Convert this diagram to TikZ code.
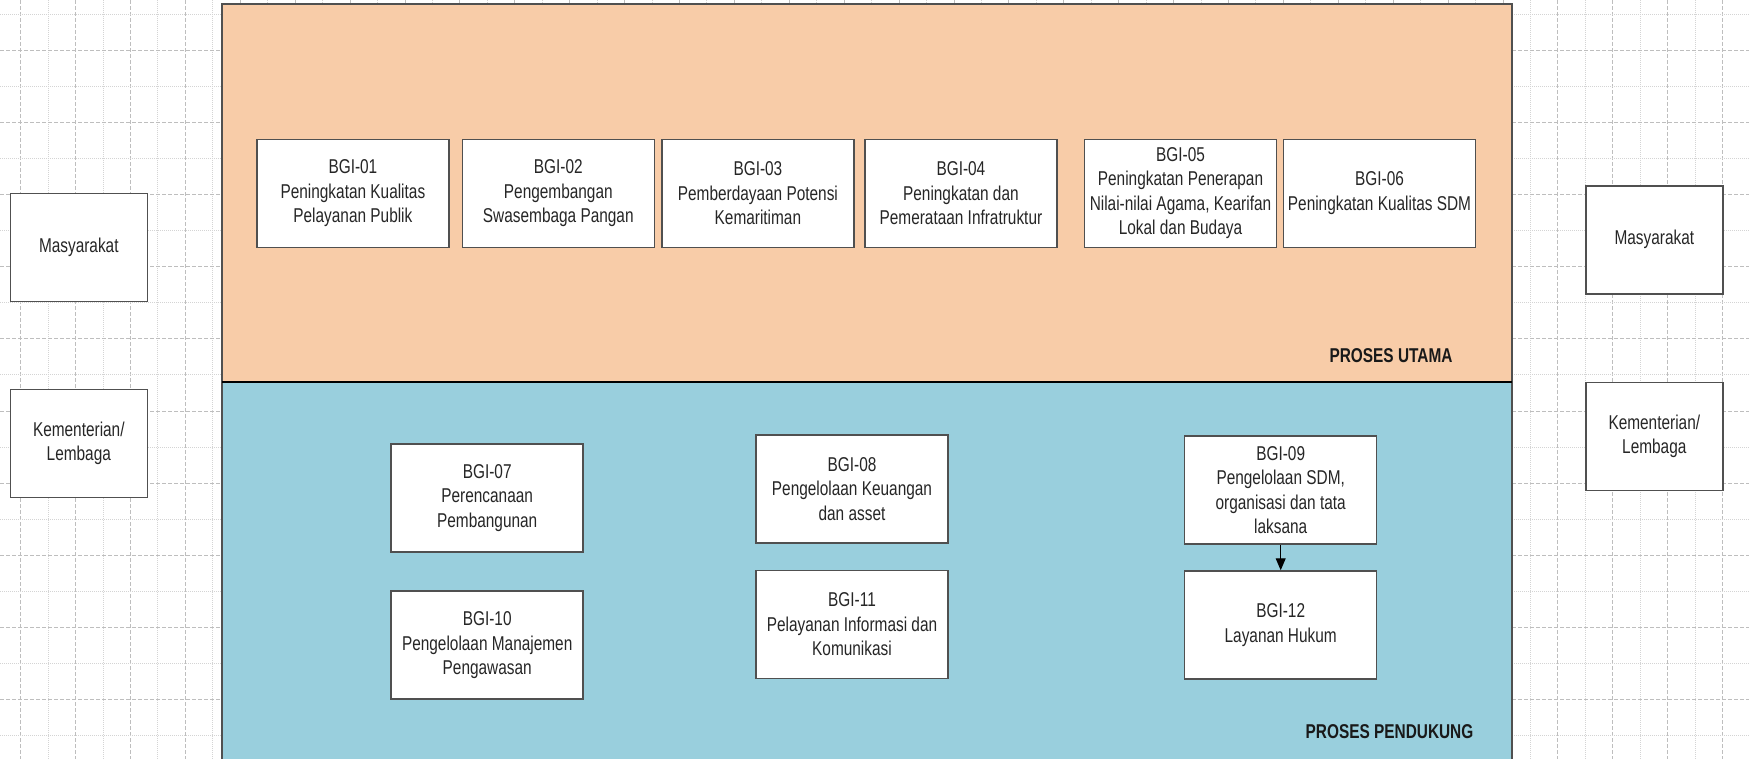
\documentclass[tikz,border=0pt]{standalone}
\usepackage{fontspec}
\setmainfont{Liberation Sans}[FakeStretch=0.77]
\usetikzlibrary{arrows.meta}
\definecolor{utama}{RGB}{248,204,168}
\definecolor{pendukung}{RGB}{153,207,221}
\definecolor{edge}{RGB}{80,80,80}
\definecolor{gridmaj}{RGB}{190,190,190}
\definecolor{gridmin}{RGB}{212,212,212}

\begin{document}
\begin{tikzpicture}[%
  x=1pt,y=-1pt,
  gmajor/.style={draw=gridmaj,line width=1pt,dash pattern=on 4pt off 2pt},
  gminor/.style={draw=gridmin,line width=1pt,dash pattern=on 1pt off 1pt},
  proc/.style={draw=edge,fill=white,line width=1.5pt,minimum width=192pt,
    minimum height=108pt,inner sep=0pt,align=center,text=black!85,
    font=\fontsize{20}{24.5}\selectfont},
  actor/.style={proc,minimum width=137pt},
  plabel/.style={font=\fontsize{20}{24}\selectfont\bfseries,text=black!90}]
\useasboundingbox (0,0) rectangle (1749,759);

\foreach \k in {0,...,31} {
  \draw[gminor] (48.15+54.9*\k,0) -- (48.15+54.9*\k,759);
  \draw[gmajor] (20.7+54.9*\k,0) -- (20.7+54.9*\k,759);
}
\foreach \k in {0,...,10} {
  \draw[gminor] (0,15+72*\k) -- (1749,15+72*\k);
}
\foreach \k in {0,...,9} {
  \draw[gmajor] (0,51+72*\k) -- (1749,51+72*\k);
}

\fill[utama] (222,4.5) rectangle (1512,382);
\fill[pendukung] (222,382) rectangle (1512,765);
\draw[edge,line width=2pt] (222,765) -- (222,4.5) -- (1512,4.5) -- (1512,765);
\draw[black,line width=2pt] (222,382) -- (1512,382);

\node[plabel] (utama) at (1391,356) {PROSES UTAMA};
\node[plabel] (pendukung) at (1389.5,732) {PROSES PENDUKUNG};

\node[actor] (masyL) at (78.8,247.3) {Masyarakat};
\node[actor] (kemL) at (78.8,443.4) {Kementerian/\\Lembaga};
\node[actor] (masyR) at (1654.3,239.8) {Masyarakat};
\node[actor] (kemR) at (1654.3,436.4) {Kementerian/\\Lembaga};

\node[proc] (b01) at (352.9,193.3) {BGI-01\\Peningkatan Kualitas\\Pelayanan Publik};
\node[proc] (b02) at (558.3,193.3) {BGI-02\\Pengembangan\\Swasembaga Pangan};
\node[proc] (b03) at (757.9,193.3) {BGI-03\\Pemberdayaan Potensi\\Kemaritiman};
\node[proc] (b04) at (960.9,193.3) {BGI-04\\Peningkatan dan\\Pemerataan Infratruktur};
\node[proc] (b05) at (1180.5,193.3) {BGI-05\\Peningkatan Penerapan\\Nilai-nilai Agama, Kearifan\\Lokal dan Budaya};
\node[proc] (b06) at (1379.5,193.3) {BGI-06\\Peningkatan Kualitas SDM};

\node[proc] (b07) at (487.2,497.9) {BGI-07\\Perencanaan\\Pembangunan};
\node[proc] (b10) at (487.2,645.2) {BGI-10\\Pengelolaan Manajemen\\Pengawasan};
\node[proc] (b08) at (852,489) {BGI-08\\Pengelolaan Keuangan\\dan asset};
\node[proc] (b11) at (852,624.5) {BGI-11\\Pelayanan Informasi dan\\Komunikasi};
\node[proc] (b09) at (1280.7,490) {BGI-09\\Pengelolaan SDM,\\organisasi dan tata\\laksana};
\node[proc] (b12) at (1280.7,625) {BGI-12\\Layanan Hukum};

\draw[black,line width=1pt,-{Triangle[width=10pt,length=12pt]}] (b09) -- (b12);
\end{tikzpicture}
\end{document}
